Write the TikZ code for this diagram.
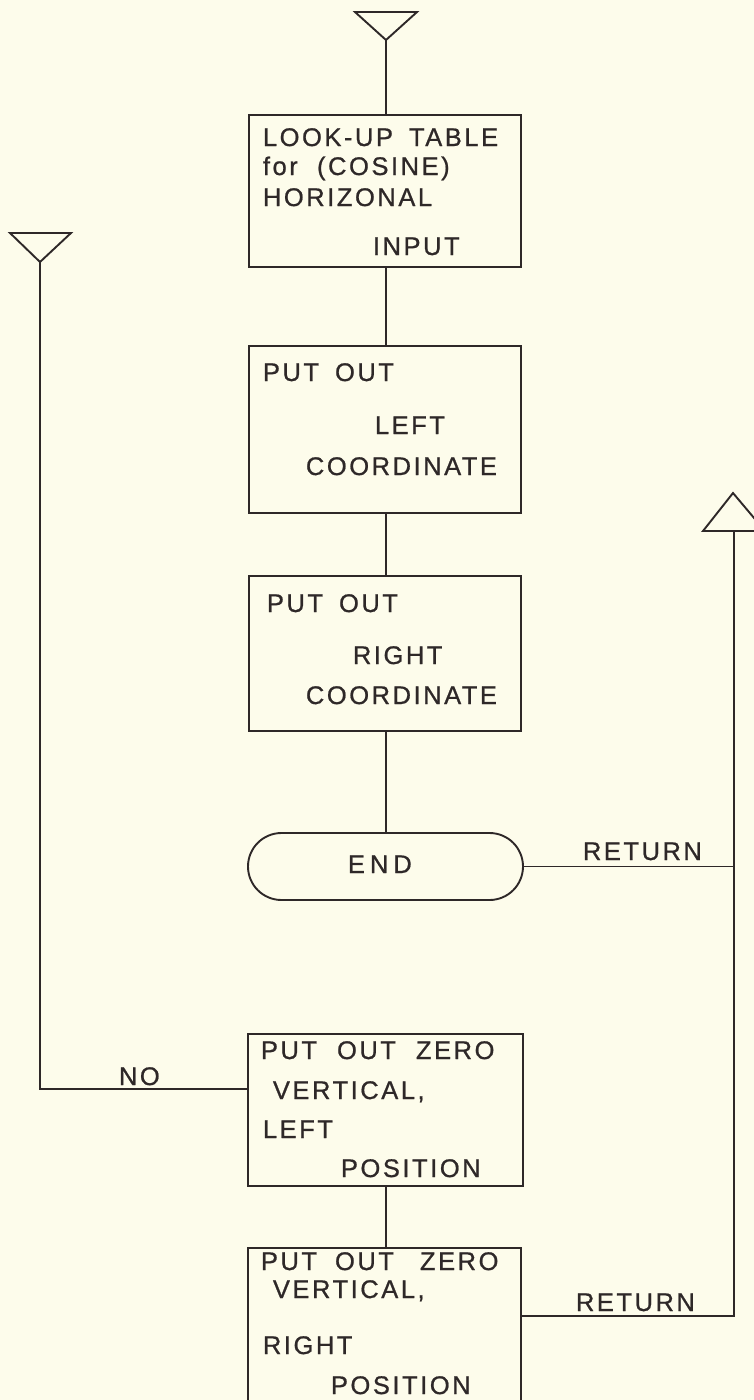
\documentclass[tikz,border=0pt]{standalone}
\usepackage{fontspec}
\newfontfamily\lett{Liberation Sans}[LetterSpace=10,FakeBold=0.8]
\usetikzlibrary{shapes.misc}
\definecolor{paper}{HTML}{FDFCEB}
\definecolor{ink}{HTML}{2E2828}
\begin{document}
\begin{tikzpicture}[x=1pt,y=-1pt,line width=1.9pt,color=ink,
  box/.style={draw,rectangle,anchor=north west,inner sep=0pt},
  lbl/.style={anchor=base west,inner sep=0pt,font=\lett\fontsize{25.5}{25.5}\selectfont,text=ink}]
\fill[paper] (0,0) rectangle (754,1400);
\useasboundingbox (0,0) rectangle (754,1400);
\clip (0,0) rectangle (754,1400);
% triangles
\coordinate (t1) at (386,40);
\draw[line join=miter] (355,12) -- (417,12) -- (t1) -- cycle;
\coordinate (lt) at (40,262);
\draw[line join=miter] (10,233) -- (71,233) -- (lt) -- cycle;
\coordinate (rt) at (734,531);
\draw[line join=miter] (703,531) -- (733,493) -- (765,531) -- cycle;
% boxes
\node[box,minimum width=272pt,minimum height=152pt] (b1) at (248,114) {};
\node[box,minimum width=272pt,minimum height=167pt] (b2) at (248,345) {};
\node[box,minimum width=272pt,minimum height=155pt] (b3) at (248,575) {};
\node[draw,rounded rectangle,minimum width=275pt,minimum height=67pt,inner sep=0pt] (end) at (385.5,866.5) {};
\node[box,minimum width=275pt,minimum height=152pt] (b4) at (247,1033) {};
\node[box,minimum width=273pt,minimum height=180pt] (b5) at (247,1247) {};
% connectors
\draw (t1) -- (b1.north -| t1);
\draw (b1.south -| t1) -- (b2.north -| t1);
\draw (b2.south -| t1) -- (b3.north -| t1);
\draw (b3.south -| t1) -- (end.north -| t1);
\draw (b4.south -| t1) -- (b5.north -| t1);
\coordinate (r5) at (734,1316);
\draw (end.east) -- (end.east -| rt);
\draw (rt) -- (r5) -- (b5.east |- r5);
\coordinate (nl) at (40,1089);
\draw (lt) -- (nl) -- (b4.west |- nl);
% texts
\node[lbl] (x11) at (262,146) {LOOK-UP\hspace{16pt}TABLE};
\node[lbl] (x12) at (262,175) {for\ \ (COSINE)};
\node[lbl] (x13) at (262,206) {HORIZONAL};
\node[lbl] (x14) at (372,255) {INPUT};
\node[lbl] (x21) at (262,381) {PUT\hspace{16pt}OUT};
\node[lbl] (x22) at (374,434) {LEFT};
\node[lbl] (x23) at (305,475) {COORDINATE};
\node[lbl] (x31) at (266,612) {PUT\hspace{16pt}OUT};
\node[lbl] (x32) at (352,664) {RIGHT};
\node[lbl] (x33) at (305,704) {COORDINATE};
\node[lbl] (xe) at (347,873) {E\hspace{5pt}N\hspace{5pt}D};
\node[lbl] (xr1) at (582,860) {RETURN};
\node[lbl] (xno) at (118,1085) {NO};
\node[lbl] (x41) at (260,1059) {PUT\hspace{20pt}OUT\hspace{20pt}ZERO};
\node[lbl] (x42) at (272,1099) {VERTICAL,};
\node[lbl] (x43) at (262,1138) {LEFT};
\node[lbl] (x44) at (340,1177) {POSITION};
\node[lbl] (x51) at (260,1270) {PUT\hspace{18pt}OUT\hspace{26pt}ZERO};
\node[lbl] (x52) at (272,1298) {VERTICAL,};
\node[lbl] (x53) at (262,1354) {RIGHT};
\node[lbl] (x54) at (330,1394) {POSITION};
\node[lbl] (xr2) at (575,1311) {RETURN};
\end{tikzpicture}
\end{document}
